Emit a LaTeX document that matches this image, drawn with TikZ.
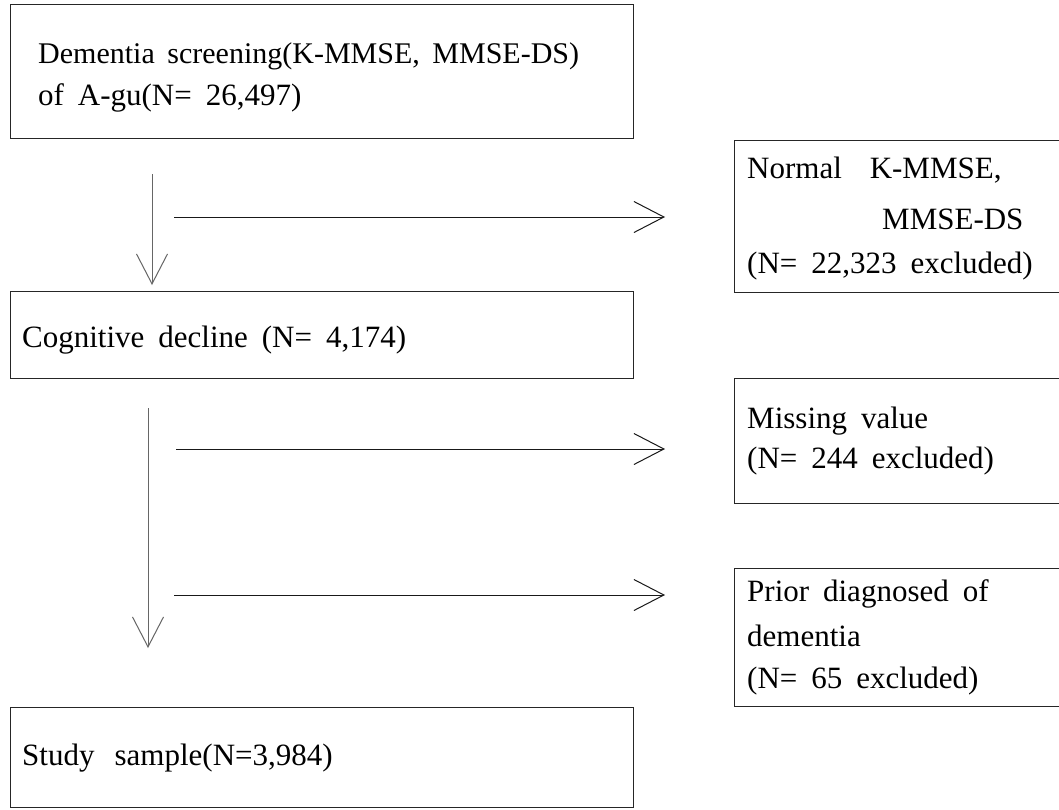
\documentclass[tikz,border=0pt]{standalone}
\usepackage{fontspec}
\setmainfont{Liberation Serif}
\usetikzlibrary{arrows.meta}
\newcommand\lblfont{\fontsize{31}{37}\selectfont\spaceskip=0.45em plus 0.1em minus 0.05em\relax}
\newcommand\lblfontsmall{\fontsize{30}{36}\selectfont\spaceskip=0.42em plus 0.1em minus 0.05em\relax}
\begin{document}
\begin{tikzpicture}[x=1pt,y=-1pt,
  box/.style={draw=black!85, line width=1.2pt, inner sep=0pt, anchor=north west},
  lbl/.style={anchor=base west, inner sep=0pt, font=\lblfont},
  arr/.style={draw=black!90, line width=1pt, -{Straight Barb[length=30pt,width=31pt,line width=1pt]}},
  varr/.style={arr, draw=black!60}]
\clip (0,0) rectangle (1059,809);
\fill[white] (0,0) rectangle (1059,809);
% left column boxes
\node[box, minimum width=623pt, minimum height=134pt] (b1) at (10,4) {};
\node[box, minimum width=623pt, minimum height=87pt] (b2) at (10,291) {};
\node[box, minimum width=623pt, minimum height=100pt] (b3) at (10,707) {};
% right column boxes (open at image edge)
\node[box, minimum width=340pt, minimum height=152pt] (r1) at (734,140) {};
\node[box, minimum width=340pt, minimum height=125pt] (r2) at (734,378) {};
\node[box, minimum width=340pt, minimum height=138pt] (r3) at (734,568) {};
% texts
\node[lbl, font=\lblfontsmall] (t1a) at (38,63) {Dementia screening(K-MMSE, MMSE-DS)};
\node[lbl] (t1b) at (38,105) {of A-gu(N= 26,497)};
\node[lbl] (t2) at (22,347) {Cognitive decline (N= 4,174)};
\node[lbl] (t3) at (22,765) {Study\hspace{0.2em} sample(N=3,984)};
\node[lbl] (tr1a) at (747,178) {Normal\hspace{0.45em} K-MMSE,};
\node[lbl] (tr1b) at (882,229) {MMSE-DS};
\node[lbl] (tr1c) at (747,273) {(N= 22,323 excluded)};
\node[lbl] (tr2a) at (747,428) {Missing value};
\node[lbl] (tr2b) at (747,468) {(N= 244 excluded)};
\node[lbl] (tr3a) at (747,601) {Prior diagnosed of};
\node[lbl] (tr3b) at (747,646) {dementia};
\node[lbl] (tr3c) at (747,688) {(N= 65 excluded)};
% connector end points
\coordinate (v1s) at (152,174);
\coordinate (v1e) at (152,285);
\coordinate (v2s) at (148,408);
\coordinate (v2e) at (148,648);
\coordinate (h1s) at (174,217);
\coordinate (h1e) at (665,217);
\coordinate (h2s) at (176,449);
\coordinate (h2e) at (665,449);
\coordinate (h3s) at (174,595);
\coordinate (h3e) at (665,595);
\draw[varr] (v1s) -- (v1e);
\draw[varr] (v2s) -- (v2e);
\draw[arr] (h1s) -- (h1e);
\draw[arr] (h2s) -- (h2e);
\draw[arr] (h3s) -- (h3e);
\end{tikzpicture}
\end{document}
